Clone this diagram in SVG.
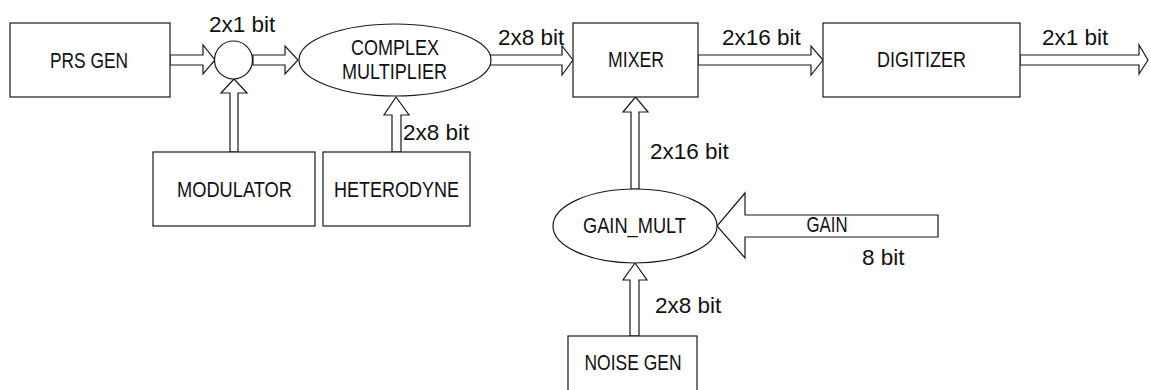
<svg xmlns="http://www.w3.org/2000/svg" width="1151" height="390" viewBox="0 0 1151 390">
<style>
.b{fill:#fff;stroke:#1a1a1a;stroke-width:1.2}
.a{fill:#fff;stroke:#1a1a1a;stroke-width:1.2;stroke-linejoin:miter}
.t{font-family:"Liberation Sans",Arial,sans-serif;font-size:22px;fill:#111;text-anchor:middle}
.l{font-family:"Liberation Sans",Arial,sans-serif;font-size:22.5px;fill:#111}
</style>
<rect width="1151" height="390" fill="#fff"/>
<g id="connectors">
<polygon class="a" points="170,55 203,55 203,45 215,60 203,74 203,65 170,65"/>
<polygon class="a" points="253,55 285,55 285,46 298,60 285,74 285,65 253,65"/>
<polygon class="a" points="230,152 230,93 221,93 234,79 247,93 238,93 238,152"/>
<polygon class="a" points="392,152 392,115 384,115 396,97 409,115 401,115 401,152"/>
<polygon class="a" points="490,55 562,55 562,46 573,60 562,75 562,65 490,65"/>
<polygon class="a" points="698,55 811,55 811,46 823,60 811,75 811,65 698,65"/>
<polygon class="a" points="1020,55 1139,55 1139,45 1148,60 1139,74 1139,65 1020,65"/>
<polygon class="a" points="631,189 631,112 623,112 635.5,97 648,112 639,112 639,189"/>
<polygon class="a" points="938,215 745,215 745,193 717,226 745,258 745,237 938,237"/>
<polygon class="a" points="630,336 630,280 623,280 635,263 647,280 639,280 639,336"/>
<text class="l" x="209" y="32">2x1 bit</text>
<text class="l" x="403" y="140">2x8 bit</text>
<text class="l" x="498" y="45">2x8 bit</text>
<text class="l" x="722" y="45">2x16 bit</text>
<text class="l" x="1042" y="45">2x1 bit</text>
<text class="l" x="650" y="159">2x16 bit</text>
<text class="t" x="827" y="232" textLength="41" lengthAdjust="spacingAndGlyphs">GAIN</text>
<text class="l" x="862" y="265">8 bit</text>
<text class="l" x="655" y="313">2x8 bit</text>
</g>
<g id="prs_gen">
<rect class="b" x="10" y="23" width="160" height="74"/>
<text class="t" x="89" y="68" textLength="78" lengthAdjust="spacingAndGlyphs">PRS GEN</text>
</g>
<g id="mod_sum">
<circle class="b" cx="233.5" cy="60" r="19"/>
</g>
<g id="complex_multiplier">
<ellipse class="b" cx="395" cy="60" rx="96" ry="36"/>
<text class="t" x="395" y="55" textLength="88" lengthAdjust="spacingAndGlyphs">COMPLEX</text>
<text class="t" x="394.5" y="79" textLength="105" lengthAdjust="spacingAndGlyphs">MULTIPLIER</text>
</g>
<g id="modulator">
<rect class="b" x="153" y="152" width="162" height="74"/>
<text class="t" x="234.5" y="197" textLength="115" lengthAdjust="spacingAndGlyphs">MODULATOR</text>
</g>
<g id="heterodyne">
<rect class="b" x="323" y="152" width="147" height="74"/>
<text class="t" x="396.5" y="197" textLength="125" lengthAdjust="spacingAndGlyphs">HETERODYNE</text>
</g>
<g id="mixer">
<rect class="b" x="573" y="23" width="125" height="74"/>
<text class="t" x="636" y="67" textLength="56" lengthAdjust="spacingAndGlyphs">MIXER</text>
</g>
<g id="digitizer">
<rect class="b" x="823" y="23" width="197" height="74"/>
<text class="t" x="921.5" y="67" textLength="89" lengthAdjust="spacingAndGlyphs">DIGITIZER</text>
</g>
<g id="gain_mult">
<ellipse class="b" cx="635" cy="226" rx="82" ry="37"/>
<text class="t" x="634.5" y="233" textLength="103" lengthAdjust="spacingAndGlyphs">GAIN_MULT</text>
</g>
<g id="noise_gen">
<rect class="b" x="568" y="336" width="129" height="60"/>
<text class="t" x="633" y="370" textLength="97" lengthAdjust="spacingAndGlyphs">NOISE GEN</text>
</g>
</svg>
